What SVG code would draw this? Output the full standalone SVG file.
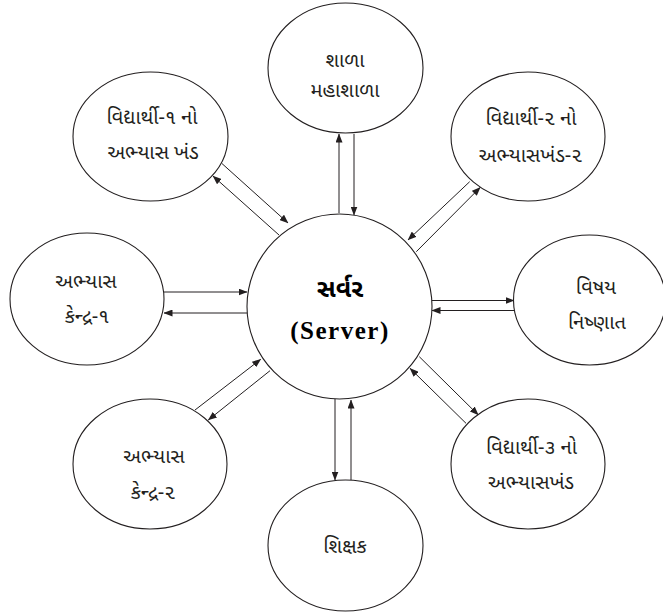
<svg xmlns="http://www.w3.org/2000/svg" width="663" height="615" viewBox="0 0 663 615">
<defs>
<marker id="ah" markerUnits="userSpaceOnUse" markerWidth="9" markerHeight="7" refX="8.5" refY="3.5" orient="auto">
<path d="M0,0 L9,3.5 L0,7 z" fill="#231f20"/>
</marker>
<style>
.node{fill:#fff;stroke:#231f20;stroke-width:1.1}
.lbl{font-family:"Noto Sans Gujarati","Lohit Gujarati","Noto Sans",sans-serif;font-size:20px;fill:#231f20;text-anchor:middle}
.srv{font-family:"Noto Sans Gujarati","Lohit Gujarati","Noto Sans",sans-serif;font-size:25px;font-weight:bold;fill:#000;text-anchor:middle}
.en{font-family:"Liberation Serif","Times New Roman",serif;font-size:25px;font-weight:bold;letter-spacing:1.5px;fill:#000;text-anchor:middle}
.c{stroke:#231f20;stroke-width:1;fill:none;marker-end:url(#ah)}
</style>
</defs>
<rect width="663" height="615" fill="#fff"/>
<g id="connectors">
<line class="c" x1="339" y1="213" x2="339" y2="134"/>
<line class="c" x1="354" y1="134" x2="354" y2="215"/>
<line class="c" x1="335" y1="399" x2="335" y2="480"/>
<line class="c" x1="351" y1="480" x2="351" y2="400"/>
<line class="c" x1="164" y1="292" x2="247" y2="292"/>
<line class="c" x1="247" y1="313" x2="164" y2="313"/>
<line class="c" x1="432" y1="300.5" x2="514" y2="300.5"/>
<line class="c" x1="514" y1="310.5" x2="432" y2="310.5"/>
<line class="c" x1="221.7" y1="163.3" x2="288" y2="223"/>
<line class="c" x1="279" y1="235" x2="213" y2="176"/>
<line class="c" x1="469.7" y1="181.7" x2="408" y2="240"/>
<line class="c" x1="416.3" y1="251.7" x2="480.3" y2="187.3"/>
<line class="c" x1="195" y1="410" x2="260.7" y2="359.3"/>
<line class="c" x1="270" y1="370.7" x2="208.3" y2="420"/>
<line class="c" x1="419.3" y1="356.7" x2="478.3" y2="415"/>
<line class="c" x1="466" y1="423.3" x2="410" y2="368.3"/>
</g>
<g id="node-shala">
<ellipse class="node" cx="345.5" cy="68" rx="77.5" ry="65"/>
<text class="lbl" x="345" y="67">શાળા</text>
<text class="lbl" x="345" y="97">મહાશાળા</text>
</g>
<g id="node-vidyarthi1">
<ellipse class="node" cx="150.5" cy="136.5" rx="77.5" ry="64.5"/>
<text class="lbl" x="152" y="124">વિદ્યાર્થી-૧ નો</text>
<text class="lbl" x="153" y="159">અભ્યાસ ખંડ</text>
</g>
<g id="node-vidyarthi2">
<ellipse class="node" cx="528" cy="136.5" rx="77" ry="64.5"/>
<text class="lbl" x="531" y="125">વિદ્યાર્થી-૨ નો</text>
<text class="lbl" x="530.5" y="162">અભ્યાસખંડ-૨</text>
</g>
<g id="node-kendra1">
<ellipse class="node" cx="87" cy="299" rx="77" ry="66"/>
<text class="lbl" x="86" y="288">અભ્યાસ</text>
<text class="lbl" x="87" y="323">કેન્દ્ર-૧</text>
</g>
<g id="node-server">
<circle class="node" cx="339.5" cy="306.5" r="92.5"/>
<text class="srv" x="340" y="297">સર્વર</text>
<text class="en" x="340" y="339">(Server)</text>
</g>
<g id="node-vishay">
<ellipse class="node" cx="589.5" cy="300" rx="76" ry="65"/>
<text class="lbl" x="596" y="294">વિષય</text>
<text class="lbl" x="597" y="329">નિષ્ણાત</text>
</g>
<g id="node-kendra2">
<ellipse class="node" cx="150" cy="464" rx="77" ry="65"/>
<text class="lbl" x="154" y="463">અભ્યાસ</text>
<text class="lbl" x="153" y="499">કેન્દ્ર-૨</text>
</g>
<g id="node-shikshak">
<ellipse class="node" cx="345.5" cy="545.5" rx="77.5" ry="65.5"/>
<text class="lbl" x="345" y="553">શિક્ષક</text>
</g>
<g id="node-vidyarthi3">
<ellipse class="node" cx="528" cy="464" rx="77" ry="65"/>
<text class="lbl" x="531.5" y="454">વિદ્યાર્થી-૩ નો</text>
<text class="lbl" x="531" y="489">અભ્યાસખંડ</text>
</g>
</svg>
